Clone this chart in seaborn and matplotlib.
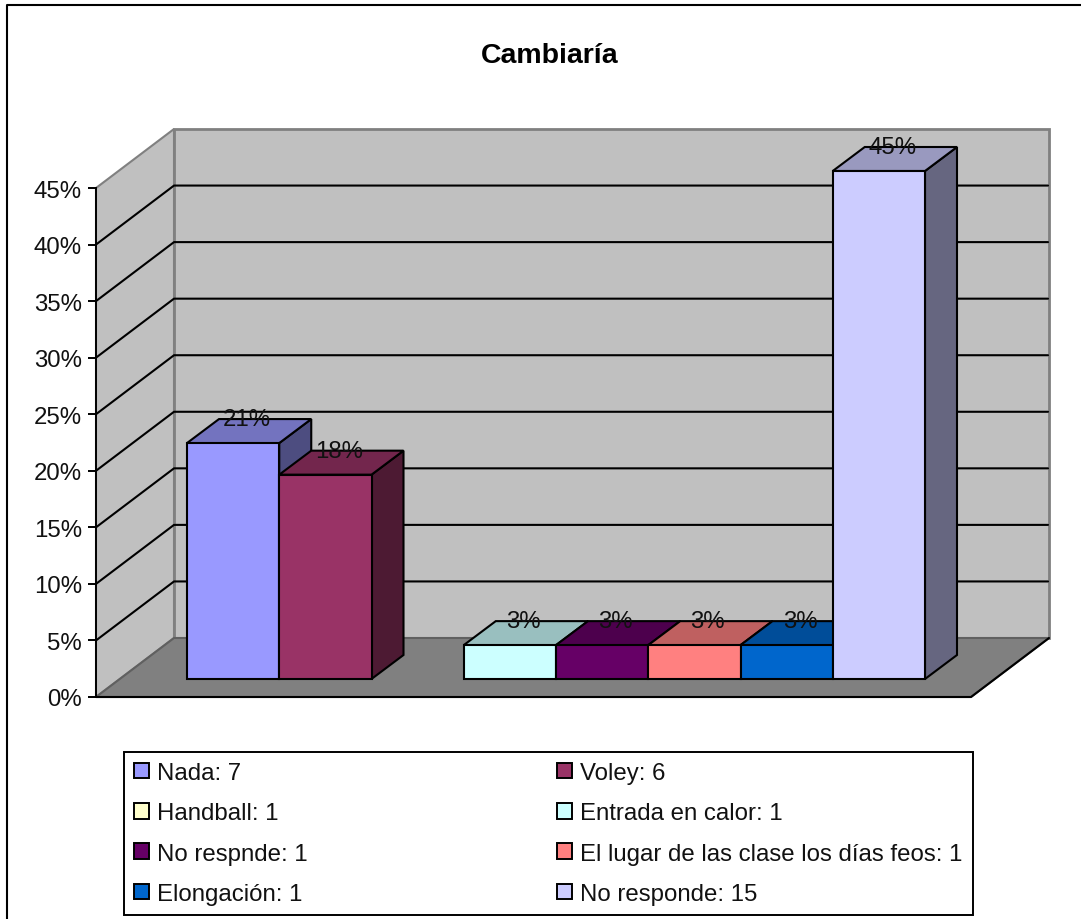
import numpy as np
import pandas as pd
import matplotlib
matplotlib.use("Agg")
import matplotlib.pyplot as plt
from matplotlib.patches import Patch, Polygon
from matplotlib.ticker import FuncFormatter
import seaborn as sns

categorias = ["Nada", "Voley", "Handball", "Entrada en calor", "No respnde",
              "El lugar de las clase los días feos", "Elongación", "No responde"]
cantidades = [7, 6, 1, 1, 1, 1, 1, 15]
porcentajes = [20.9, 18.1, np.nan, 3.0, 3.0, 3.0, 3.0, 45.45]  # handball no tiene barra
colores = ["#9999FF", "#993366", "#FFFFCC", "#CCFFFF", "#660066", "#FF8080", "#0066CC", "#CCCCFF"]
marcas_y = [0, 5, 10, 15, 20, 25, 30, 35, 40, 45]
titulo = "Cambiaría"

W, H = 1081, 920
Y_MAX = 45
PX_Y = 508 / Y_MAX          # pixeles por punto porcentual
DEPTH_X, DEPTH_Y = 78, 59   # profundidad de las paredes
BAR_DX, BAR_DY = 32, 24     # profundidad de las barras
TXT = 17.3


def axes_px(left, top, right, bottom, **kw):
    # ejes ubicados en pixeles de la imagen
    return fig.add_axes([left / W, 1 - bottom / H, (right - left) / W, (bottom - top) / H], **kw)


sns.set_theme(style="white")
plt.rcParams["font.family"] = ["Liberation Sans", "DejaVu Sans"]
plt.rcParams["text.color"] = "#111111"

df = pd.DataFrame({"categoria": categorias, "porcentaje": porcentajes})

fig = plt.figure(figsize=(W / 100, H / 100), dpi=100, facecolor="white")

# fondo: paredes y piso
canvas = axes_px(0, 0, W, H, zorder=0)
canvas.set_xlim(0, W)
canvas.set_ylim(H, 0)
canvas.axis("off")

x0, x1, y0, y_top = 96, 971, 698, 189
canvas.add_patch(Polygon([(x0, y0), (x0, y_top), (x0 + DEPTH_X, y_top - DEPTH_Y), (x0 + DEPTH_X, y0 - DEPTH_Y)],
                         facecolor="#C0C0C0", edgecolor="#808080", lw=1.5))
canvas.add_patch(Polygon([(x0 + DEPTH_X, y0 - DEPTH_Y), (x0 + DEPTH_X, y_top - DEPTH_Y),
                          (x1 + DEPTH_X, y_top - DEPTH_Y), (x1 + DEPTH_X, y0 - DEPTH_Y)],
                         facecolor="#C0C0C0", edgecolor="#808080", lw=2))
canvas.add_patch(Polygon([(x0, y0), (x1, y0), (x1 + DEPTH_X, y0 - DEPTH_Y), (x0 + DEPTH_X, y0 - DEPTH_Y)],
                         facecolor="#808080", edgecolor="#606060", lw=1.5))
canvas.plot([x0, x1, x1 + DEPTH_X], [y0, y0, y0 - DEPTH_Y], color="black", lw=1.5)

escala_pared = (y0 - y_top) / Y_MAX
for v in marcas_y[1:-1]:
    yy = y0 - v * escala_pared
    canvas.plot([x0, x0 + DEPTH_X, x1 + DEPTH_X - 1], [yy, yy - DEPTH_Y, yy - DEPTH_Y], color="black", lw=1.5)

# borde del grafico
canvas.plot([7, 7, W], [H, 6, 6], color="black", lw=1.5)

# eje y
ax_y = axes_px(x0, y_top, x1, y0, zorder=1)
ax_y.patch.set_alpha(0)
ax_y.set_xlim(0, 1)
ax_y.set_ylim(0, Y_MAX)
ax_y.set_xticks([])
ax_y.set_yticks(marcas_y)
ax_y.yaxis.set_major_formatter(FuncFormatter(lambda v, _: f"{v:.0f}%"))
ax_y.tick_params(axis="y", left=True, length=5.5, width=1.4, pad=4.5, labelsize=TXT, labelcolor="#111111", color="black")
for lado in ["top", "right", "bottom"]:
    ax_y.spines[lado].set_visible(False)
ax_y.spines["left"].set_color("black")
ax_y.spines["left"].set_linewidth(1.4)

# barras
ax = axes_px(187, 680 - Y_MAX * PX_Y, 925, 680, zorder=2)
ax.patch.set_alpha(0)
sns.barplot(data=df, x="categoria", y="porcentaje", hue="categoria", order=categorias, hue_order=categorias,
            palette=colores, width=1, dodge=False, legend=False, saturation=1,
            edgecolor="black", linewidth=1.5, ax=ax)
ax.set_xlim(-0.5, len(categorias) - 0.5)
ax.set_ylim(0, Y_MAX)
ax.axis("off")

unit_x = (925 - 187) / len(categorias)
dx, dy = BAR_DX / unit_x, BAR_DY / PX_Y

barras = [p for p in ax.patches if np.isfinite(p.get_height()) and p.get_height() > 0]
barras.sort(key=lambda p: p.get_x())
for i, p in enumerate(barras):
    z = 3 + i
    left, w = p.get_x(), p.get_width()
    valor = p.get_height()
    h = min(valor, Y_MAX)  # la barra se corta en el maximo del eje
    p.set_height(h)
    p.set_zorder(z + 0.5)
    p.set_clip_on(False)
    color = np.array(p.get_facecolor()[:3])
    ax.add_patch(Polygon([(left + w, 0), (left + w + dx, dy), (left + w + dx, h + dy), (left + w, h)],
                         facecolor=color * 0.5, edgecolor="black", lw=1.5, zorder=z, clip_on=False))
    ax.add_patch(Polygon([(left, h), (left + dx, h + dy), (left + w + dx, h + dy), (left + w, h)],
                         facecolor=color * 0.75, edgecolor="black", lw=1.5, zorder=z, clip_on=False))
    ax.text(left + w / 2 + dx * 0.42, h + dy, f"{valor:.0f}%", ha="center", va="center",
            fontsize=TXT, color="#111111", zorder=50, clip_on=False)

# titulo
canvas.text(550, 56, titulo, ha="center", va="center", fontsize=20.5, fontweight="bold", color="black")

# leyenda, se llena por columnas asi que se reordena para leer por filas
handles = [Patch(facecolor=c, edgecolor="black", lw=1.4) for c in colores]
labels = [f"{c}: {n}" for c, n in zip(categorias, cantidades)]
orden = [0, 2, 4, 6, 1, 3, 5, 7]
leg = fig.legend([handles[i] for i in orden], [labels[i] for i in orden], ncol=2,
                 loc="upper left", bbox_to_anchor=(123.5 / W, 1 - 752.5 / H), borderaxespad=0,
                 fontsize=TXT, labelspacing=0.76, handlelength=0.62, handleheight=0.62,
                 handletextpad=0.33, columnspacing=10.4, borderpad=0.44,
                 frameon=True, fancybox=False, framealpha=1, facecolor="white", edgecolor="black")
leg.get_frame().set_linewidth(1.4)
leg.set_zorder(60)

fig.savefig("out.png", dpi=100)
